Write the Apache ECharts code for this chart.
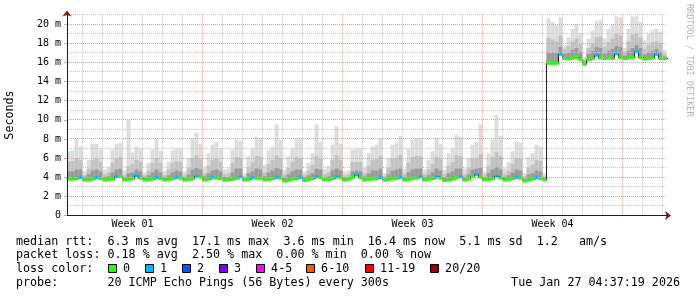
<!DOCTYPE html>
<html><head><meta charset="utf-8">
<script src="https://cdn.jsdelivr.net/npm/echarts@6/dist/echarts.min.js"></script>
<style>html,body{margin:0;padding:0;background:#fff}#c{width:697px;height:297px}</style>
</head><body><div id="c"></div>
<script>
// ---- data (ms). One sample = one consolidated column of 4.8 h, from graph start (hours) ----
const sampleStartH = -0.6;
const sampleLenH = 4.8;
const medianMs = [
  3.8, 3.8, 3.85, 4.0,
  3.7, 3.7, 3.8, 3.95, 3.85,
  3.7, 3.75, 3.8, 4.05, 4.1,
  3.7, 3.75, 3.85, 4.15, 3.9,
  3.7, 3.75, 3.8, 3.95, 3.85,
  3.7, 3.75, 3.85, 4.0, 3.9,
  3.7, 3.75, 3.85, 4.1, 4.0,
  3.7, 3.8, 3.95, 3.9, 3.85,
  3.7, 3.7, 3.8, 3.9, 4.05,
  3.7, 3.75, 3.95, 3.9, 3.85,
  3.7, 3.75, 3.85, 4.0, 3.9,
  3.6, 3.7, 3.8, 3.85, 4.0,
  3.65, 3.75, 3.85, 4.05, 3.95,
  3.7, 3.75, 3.85, 4.05, 3.95,
  3.7, 3.8, 4.0, 4.25, 3.95,
  3.7, 3.75, 3.8, 3.85, 4.0,
  3.7, 3.75, 3.8, 3.9, 4.0,
  3.7, 3.75, 3.85, 3.9, 4.05,
  3.7, 3.75, 3.85, 4.05, 3.9,
  3.65, 3.7, 3.8, 3.95, 4.05,
  3.7, 3.8, 4.05, 4.3, 4.0,
  3.7, 3.75, 3.85, 4.1, 3.9,
  3.7, 3.75, 3.85, 4.0, 3.9,
  3.6, 3.7, 3.8, 3.95, 3.85,
  3.7, 15.9, 15.9, 15.9, 16.85,
  16.4, 16.35, 16.45, 16.5, 16.3,
  15.8, 16.3, 16.4, 16.75, 16.45,
  16.4, 16.45, 16.4, 16.9, 16.5,
  16.4, 16.45, 16.5, 17.1, 16.5,
  16.35, 16.4, 16.45, 16.85, 16.4,
  16.4, 16.4
];
const lostPings = [
  0,0,0,1,
  0,0,0,1,0, 0,0,0,1,0, 0,0,0,1,0, 0,0,0,1,0, 0,0,0,1,0, 0,0,0,1,0, 0,0,1,0,0,
  0,0,0,0,1, 0,0,1,0,0, 0,0,0,1,0, 0,0,0,0,1, 0,0,0,1,0, 0,0,0,1,0, 0,0,0,1,0,
  0,0,0,0,1, 0,0,0,0,1, 0,0,0,0,1, 0,0,0,1,0, 0,0,0,0,1, 0,0,0,1,0, 0,0,0,1,0,
  0,0,0,1,0, 0,0,0,1,0, 0,0,0,0,1, 0,0,0,0,0, 0,0,0,1,0, 0,0,0,1,0, 0,0,0,1,0,
  0,0,0,1,0,
  0,0
];
const smokeMax = [
  6.7, 6.8, 8.0, 7.2,
  4.6, 5.8, 7.5, 7.5, 6.9,
  4.8, 5.1, 6.9, 7.5, 7.6,
  4.7, 10.0, 6.6, 7.2, 7.0,
  4.5, 5.5, 6.9, 8.0, 6.8,
  4.6, 5.6, 6.8, 7.0, 6.9,
  4.6, 6.0, 8.1, 8.6, 7.5,
  5.1, 6.5, 7.4, 7.7, 7.0,
  4.8, 4.9, 6.9, 7.9, 7.8,
  4.4, 6.2, 7.0, 8.2, 8.0,
  5.3, 6.8, 7.2, 9.5, 7.9,
  4.8, 6.2, 7.0, 8.1, 8.0,
  4.6, 5.5, 6.5, 9.5, 7.7,
  4.9, 5.2, 7.4, 9.3, 7.5,
  4.6, 4.7, 6.9, 6.9, 7.0,
  5.0, 6.5, 7.2, 7.4, 8.1,
  4.4, 6.0, 7.4, 7.6, 8.3,
  4.9, 7.0, 7.9, 8.1, 8.1,
  4.8, 5.8, 6.7, 8.1, 7.5,
  4.8, 6.5, 7.0, 8.4, 8.2,
  4.9, 6.0, 7.4, 7.7, 9.5,
  4.6, 6.5, 7.9, 10.5, 8.3,
  4.9, 5.6, 6.7, 7.7, 7.6,
  4.4, 6.1, 6.5, 7.4, 7.2,
  4.4, 20.6, 20.2, 19.9, 20.7,
  17.8, 18.6, 19.5, 20.0, 19.0,
  16.6, 18.5, 19.3, 20.3, 20.4,
  18.5, 19.5, 20.0, 20.8, 20.7,
  17.5, 19.5, 20.8, 20.8, 20.2,
  18.3, 19.0, 19.4, 19.5, 19.2,
  17.3, 17.3
];
const smokeHigh = [
  5.6, 5.7, 6.0, 5.8,
  4.2, 4.9, 5.8, 6.0, 5.6,
  4.3, 4.5, 5.5, 5.9, 6.1,
  4.2, 5.2, 5.4, 5.8, 5.6,
  4.2, 4.7, 5.5, 6.0, 5.5,
  4.2, 4.8, 5.5, 5.7, 5.6,
  4.2, 5.0, 6.0, 6.3, 5.9,
  4.4, 5.2, 5.8, 6.0, 5.6,
  4.3, 4.4, 5.5, 6.1, 6.0,
  4.1, 5.1, 5.6, 6.2, 6.1,
  4.5, 5.4, 5.8, 6.3, 6.0,
  4.3, 5.0, 5.6, 6.1, 6.0,
  4.2, 4.7, 5.3, 6.2, 5.9,
  4.3, 4.5, 5.8, 6.3, 5.8,
  4.2, 4.3, 5.6, 5.6, 5.6,
  4.4, 5.2, 5.8, 5.9, 6.2,
  4.1, 5.0, 5.9, 6.0, 6.3,
  4.3, 5.5, 6.1, 6.2, 6.2,
  4.3, 4.8, 5.4, 6.1, 5.9,
  4.3, 5.2, 5.6, 6.3, 6.2,
  4.3, 5.0, 5.9, 6.0, 6.4,
  4.2, 5.2, 6.1, 6.6, 6.2,
  4.3, 4.7, 5.4, 6.0, 5.9,
  4.1, 5.0, 5.3, 5.8, 5.7,
  4.1, 18.6, 18.4, 18.2, 18.8,
  17.4, 17.7, 18.2, 18.5, 17.9,
  16.3, 17.5, 18.0, 18.6, 18.7,
  17.6, 18.1, 18.5, 19.0, 18.8,
  17.1, 18.2, 18.9, 19.0, 18.6,
  17.4, 17.8, 18.1, 18.2, 18.0,
  16.9, 16.9
];
const smokeMid = [
  4.6, 4.6, 4.8, 4.8,
  3.95, 4.3, 4.7, 4.8, 4.6,
  4.0, 4.1, 4.5, 4.8, 4.9,
  3.95, 4.4, 4.5, 4.8, 4.6,
  3.95, 4.2, 4.5, 4.8, 4.5,
  3.95, 4.2, 4.5, 4.7, 4.6,
  3.95, 4.3, 4.8, 5.0, 4.8,
  4.1, 4.4, 4.7, 4.8, 4.6,
  4.0, 4.0, 4.5, 4.9, 4.9,
  3.9, 4.4, 4.6, 4.9, 4.8,
  4.1, 4.5, 4.7, 5.0, 4.8,
  3.95, 4.3, 4.6, 4.8, 4.8,
  3.95, 4.2, 4.4, 4.9, 4.8,
  4.0, 4.1, 4.7, 4.9, 4.7,
  3.95, 4.0, 4.6, 4.7, 4.6,
  4.05, 4.4, 4.7, 4.7, 4.9,
  3.9, 4.3, 4.7, 4.8, 4.9,
  4.0, 4.5, 4.8, 4.9, 4.9,
  4.0, 4.2, 4.5, 4.9, 4.7,
  3.95, 4.4, 4.6, 4.9, 4.9,
  4.0, 4.3, 4.8, 4.9, 5.0,
  3.95, 4.4, 4.8, 5.1, 4.8,
  4.0, 4.2, 4.5, 4.8, 4.7,
  3.85, 4.3, 4.4, 4.7, 4.6,
  3.9, 17.0, 17.0, 17.0, 17.6,
  16.9, 17.0, 17.3, 17.5, 17.1,
  16.1, 16.9, 17.2, 17.6, 17.5,
  16.9, 17.2, 17.4, 17.7, 17.6,
  16.7, 17.2, 17.5, 17.8, 17.5,
  16.8, 17.0, 17.2, 17.4, 17.1,
  16.6, 16.6
];
// time axis (hours from graph start); first local midnight after start, one day = 24 h
const spanH = 720;
const firstMidnightH = 18.6;
const weekLabels = ['Week 01', 'Week 02', 'Week 03', 'Week 04'];
const firstWeekStartIdx = 6;   // day index of first week boundary
const yMax = 21;
const lossLabels = ['0', '1', '2', '3', '4-5', '6-10', '11-19', '20/20'];
const lossPalette = ['#26ff00', '#00b8ff', '#0059ff', '#7e00ff', '#ff00ff', '#ff5500', '#ff0000', '#a10000'];
const statsRtt = 'median rtt:  6.3 ms avg  17.1 ms max  3.6 ms min  16.4 ms now  5.1 ms sd  1.2   am/s';
const statsLoss = 'packet loss: 0.18 % avg  2.50 % max  0.00 % min  0.00 % now';
const probeText = 'probe:       20 ICMP Echo Pings (56 Bytes) every 300s';
const stampText = 'Tue Jan 27 04:37:19 2026';

// ---- build ----
const mono = '"DejaVu Sans Mono", monospace';
const N = medianMs.length;
const xStart = medianMs.map((_, i) => sampleStartH + sampleLenH * i);
function lossColor(n) {
  const idx = n <= 3 ? n : n <= 5 ? 4 : n <= 10 ? 5 : n <= 19 ? 6 : 7;
  return lossPalette[idx];
}
const dayLines = [], weekLines = [];
for (let d = 0; firstMidnightH + 24 * d < spanH; d++) {
  const h = firstMidnightH + 24 * d;
  if (d >= firstWeekStartIdx && (d - firstWeekStartIdx) % 7 === 0) weekLines.push(h); else dayLines.push(h);
}
const weekCenters = weekLabels.map((_, i) => firstMidnightH + 24 * (firstWeekStartIdx - 7 + 7 * i) + 84);

const GRID_MINOR = '#c6c6c6';
const GRID_MAJOR = '#e99a9a';

// column rectangles [xFrom, xTo, low, high, lossCount]
function columns(lo, hi, colorFn, z) {
  return {
    type: 'custom', z, silent: true, animation: false,
    data: xStart.map((x, i) => [x, x + sampleLenH, lo[i], hi[i], lostPings[i]]),
    encode: { x: [0, 1], y: [2, 3] },
    renderItem: (params, api) => {
      const a = api.coord([api.value(0), api.value(3)]);
      const b = api.coord([api.value(1), api.value(2)]);
      const cs = params.coordSys;
      const shape = echarts.graphic.clipRectByRect(
        { x: a[0], y: a[1], width: b[0] - a[0], height: b[1] - a[1] },
        { x: cs.x, y: cs.y, width: cs.width, height: cs.height });
      return shape && { type: 'rect', shape, style: { fill: colorFn(api.value(4)) } };
    }
  };
}
const bandLo = medianMs.map(v => v - 0.16);
const bandHi = medianMs.map(v => v + 0.16);
const gridSeries = markData => ({
  id: 'gridlines', type: 'line', data: [], z: 10, silent: true, animation: false,
  markLine: {
    silent: true, animation: false, symbol: ['none', 'none'], label: { show: false },
    lineStyle: { type: [1, 1], width: 1 }, emphasis: { disabled: true },
    data: markData
  }
});
const series = [
  columns(medianMs, smokeMax, () => '#dddddd', 2),
  columns(medianMs, smokeHigh, () => '#c2c2c2', 2),
  columns(medianMs, smokeMid, () => '#9a9a9a', 2),
  {
    type: 'line', step: 'end', symbol: 'none', silent: true, animation: false, z: 3,
    data: xStart.map((x, i) => [x, medianMs[i]]).concat([[xStart[N - 1] + sampleLenH, medianMs[N - 1]]]),
    lineStyle: { color: '#202020', width: 1 }
  },
  columns(bandLo, bandHi, n => lossColor(n), 4),
  gridSeries([])
];

// legend / footer text
const graphic = [];
const lineY = [241.5, 255.2, 269, 282.7];
const txt = (text, x, y, extra) => ({
  type: 'text', x, y, silent: true,
  style: Object.assign({ text, fill: '#000', font: '11.7px ' + mono, verticalAlign: 'middle', textVerticalAlign: 'middle' }, extra || {})
});
graphic.push(txt(statsRtt, 16, lineY[0]));
graphic.push(txt(statsLoss, 16, lineY[1]));
graphic.push(txt('loss color:', 16, lineY[2]));
graphic.push(txt(probeText, 16, lineY[3]));
graphic.push(txt(stampText, 680, lineY[3], { align: 'right', textAlign: 'right' }));
const boxX = [108.5, 145.5, 182.5, 219.5, 256.5, 306.5, 365.5, 430.5];
lossLabels.forEach((lab, i) => {
  graphic.push({ type: 'rect', silent: true, shape: { x: boxX[i], y: lineY[2] - 4.5, width: 8, height: 8 },
    style: { fill: lossPalette[i], stroke: '#000', lineWidth: 1 } });
  graphic.push(txt(lab, boxX[i] + 14.6, lineY[2]));
});
graphic.push({
  type: 'text', x: 689, y: 4, rotation: -Math.PI / 2, silent: true,
  style: { text: 'RRDTOOL / TOBI OETIKER', fill: '#b4b4b4', font: '8.5px ' + mono, verticalAlign: 'middle', textVerticalAlign: 'middle' }
});

const axisCommonX = { type: 'value', min: 0, max: spanH, position: 'bottom', splitLine: { show: false }, axisTick: { show: false } };
const axisCommonY = { type: 'value', min: 0, max: yMax, position: 'left' };
const option = {
  animation: false,
  backgroundColor: '#fff',
  grid: { left: 67, top: 14.5, width: 600, height: 201, containLabel: false, outerBoundsMode: 'none' },
  xAxis: [
    Object.assign({}, axisCommonX, {
      z: 12,
      axisLine: { show: true, lineStyle: { color: '#1f1f1f', width: 1 } },
      axisLabel: {
        customValues: weekCenters, color: '#000', fontFamily: mono, fontSize: 10, margin: 4,
        formatter: v => { const i = weekCenters.findIndex(c => Math.abs(c - v) < 1e-6); return i >= 0 ? weekLabels[i] : ''; }
      }
    }),
    Object.assign({}, axisCommonX, {
      z: 11, axisLabel: { show: false },
      axisLine: { show: true, symbol: ['none', 'arrow'], symbolSize: [7, 6], symbolOffset: [0, 4], lineStyle: { color: '#801f1f', width: 1 } }
    })
  ],
  yAxis: [
    Object.assign({}, axisCommonY, {
      interval: 2, z: 12,
      name: 'Seconds', nameLocation: 'middle', nameRotate: 90, nameGap: 51,
      nameTextStyle: { fontFamily: mono, fontSize: 11.7, color: '#000' },
      axisLine: { show: true, lineStyle: { color: '#1f1f1f', width: 1 } },
      axisTick: { show: true, length: 3, lineStyle: { color: GRID_MAJOR } },
      splitLine: { show: false },
      axisLabel: { showMaxLabel: false, color: '#000', fontFamily: mono, fontSize: 10, margin: 6,
        formatter: v => v === 0 ? '0' : v + ' m' }
    }),
    Object.assign({}, axisCommonY, {
      z: 11,
      axisLabel: { show: false }, axisTick: { show: false }, splitLine: { show: false },
      axisLine: { show: true, symbol: ['none', 'arrow'], symbolSize: [7, 6], symbolOffset: [0, 4], lineStyle: { color: '#801f1f', width: 1 } }
    })
  ],
  series,
  graphic
};
const chart = echarts.init(document.getElementById('c'), null, { renderer: 'canvas' });
chart.setOption(option);

// grid lines: every ms (major every 2 ms) and every day (major every week), snapped to whole device pixels
const snapY = v => {
  const p = chart.convertToPixel({ yAxisIndex: 0 }, v);
  return chart.convertFromPixel({ yAxisIndex: 0 }, Math.floor(p) + 0.5);
};
const markData = [];
for (let v = 1; v <= yMax; v++) if (v % 2) markData.push({ yAxis: snapY(v), lineStyle: { color: GRID_MINOR } });
dayLines.forEach(h => markData.push({ xAxis: h, lineStyle: { color: GRID_MINOR } }));
for (let v = 2; v < yMax; v += 2) markData.push({ yAxis: snapY(v), lineStyle: { color: GRID_MAJOR } });
weekLines.forEach(h => markData.push({ xAxis: h, lineStyle: { color: GRID_MAJOR } }));
chart.setOption({ series: [gridSeries(markData)] });
</script></body></html>
